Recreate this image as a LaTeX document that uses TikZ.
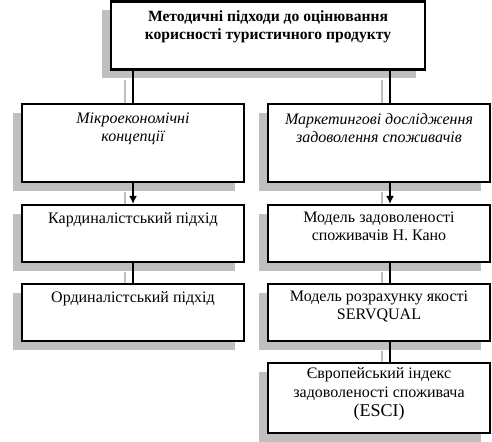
\documentclass[tikz,border=0pt]{standalone}
\usepackage{fontspec}
\setmainfont{Liberation Serif}
\usetikzlibrary{shadows,calc,arrows.meta}
\pgfdeclarelayer{bg}
\pgfsetlayers{bg,main}
\begin{document}
\begin{tikzpicture}[x=0.75pt,y=-0.75pt,
  box/.style={draw, line width=1.6pt, fill=white, inner sep=0pt,
    drop shadow={shadow xshift=-6.75pt, shadow yshift=-6.75pt, fill=black!25, opacity=1}},
  txt/.style={anchor=north, align=center, font=\fontsize{12}{13.5}\selectfont, inner sep=0pt},
  conn/.style={line width=1.6pt},
  arr/.style={line width=1.6pt, -{Latex[length=6pt,width=6pt]}},
  shline/.style={line width=1.5pt, draw=black!25, transform canvas={xshift=-6pt, yshift=-6.75pt}},
  sharr/.style={line width=1.5pt, draw=black!25, -{Latex[length=5pt,width=5pt]}, transform canvas={xshift=-6pt, yshift=-6.75pt}}]
\useasboundingbox (0,0) rectangle (492,442);
\coordinate (rx) at (390,0);
% boxes
\node[box, minimum width=235.5pt, minimum height=51pt] (top) at (268,35.5) {};
\node[box, minimum width=166.5pt, minimum height=58.5pt] (lm) at (133,143) {};
\node[box, minimum width=166.5pt, minimum height=58.5pt] (rm) at (379,143) {};
\node[box, minimum width=166.5pt, minimum height=42.75pt] (l3) at (133,233.5) {};
\node[box, minimum width=166.5pt, minimum height=42.75pt] (r3) at (379,233.5) {};
\node[box, minimum width=166.5pt, minimum height=42.75pt] (l4) at (133,312.5) {};
\node[box, minimum width=166.5pt, minimum height=42.75pt] (r4) at (379,312.5) {};
\node[box, minimum width=166.5pt, minimum height=52.5pt] (r5) at (379,398) {};
% texts
\node[txt, font=\fontsize{11.7}{13.5}\selectfont\bfseries] (ttop) at ($(top.north)+(0,10)$) {Методичні підходи до оцінювання\\корисності туристичного продукту};
\node[txt, font=\fontsize{12}{13.5}\selectfont\itshape] (tlm) at ($(lm.north)+(0,10)$) {Мікроекономічні\\концепції};
\node[txt, font=\fontsize{12}{13.5}\selectfont\itshape] (trm) at ($(rm.north)+(0,10)$) {Маркетингові дослідження\\задоволення споживачів};
\node[txt] (tl3) at ($(l3.north)+(0,8)$) {Кардиналістський підхід};
\node[txt] (tr3) at ($(r3.north)+(0,8)$) {Модель задоволеності\\споживачів Н. Кано};
\node[txt] (tl4) at ($(l4.north)+(0,8)$) {Ординалістський підхід};
\node[txt] (tr4) at ($(r4.north)+(0,8)$) {Модель розрахунку якості\\SERVQUAL};
\node[txt, font=\fontsize{12}{14.5}\selectfont] (tr5) at ($(r5.north)+(0,5)$) {Європейський індекс\\задоволеності споживача\\{\fontsize{13.5}{14.5}\selectfont(ESCI)}};
% shadow connectors
\begin{pgfonlayer}{bg}
\draw[shline] (top.south -| lm) -- (lm.north);
\draw[shline] (top.south -| rx) -- (rm.north -| rx);
\draw[sharr] (lm.south) -- (l3.north);
\draw[sharr] (rm.south -| rx) -- (r3.north -| rx);
\draw[shline] (l3.south) -- (l4.north);
\draw[shline] (r3.south -| rx) -- (r4.north -| rx);
\draw[shline] (r4.south -| rx) -- (r5.north -| rx);
\end{pgfonlayer}
% connectors
\draw[conn] (top.south -| lm) -- (lm.north);
\draw[conn] (top.south -| rx) -- (rm.north -| rx);
\draw[arr] (lm.south) -- (l3.north);
\draw[arr] (rm.south -| rx) -- (r3.north -| rx);
\draw[conn] (l3.south) -- (l4.north);
\draw[conn] (r3.south -| rx) -- (r4.north -| rx);
\draw[conn] (r4.south -| rx) -- (r5.north -| rx);
\end{tikzpicture}
\end{document}
